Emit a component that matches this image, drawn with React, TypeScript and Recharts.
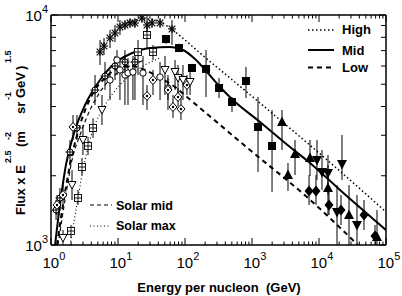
import React from 'react';
import { ComposedChart, Line, Scatter, XAxis, YAxis, ErrorBar } from 'recharts';

type P = { e: number; f: number; lo?: number; hi?: number };

const FONT = "'Liberation Sans', Arial, Helvetica, sans-serif";

// tick values
const xMajor = [1, 10, 100, 1000, 10000, 100000];
const yMajor = [1000, 10000];
const minorMult = [2, 3, 4, 5, 6, 7, 8, 9];
const xTicks = [...xMajor, ...xMajor.slice(0, -1).flatMap((m) => minorMult.map((k) => k * m))].sort((a, b) => a - b);
const yTicks = [1000, ...minorMult.map((k) => k * 1000), 10000];

// model curves
const highCurve: P[] = [
  { e: 14.1, f: 9326 }, { e: 25.3, f: 9608 }, { e: 42.4, f: 9326 }, { e: 59.7, f: 8782 },
  { e: 100, f: 7785 }, { e: 167, f: 6834 }, { e: 470, f: 5320 }, { e: 1316, f: 4143 },
  { e: 2620, f: 3496 }, { e: 7870, f: 2668 }, { e: 29040, f: 1917 }, { e: 100000, f: 1392 },
];
const midCurve: P[] = [
  { e: 1.15, f: 1000 }, { e: 1.36, f: 1493 }, { e: 1.67, f: 2228 }, { e: 2.28, f: 3162 },
  { e: 3.22, f: 4062 }, { e: 5.39, f: 5215 }, { e: 9.02, f: 6184 }, { e: 15.1, f: 6766 },
  { e: 30, f: 7185 }, { e: 59.7, f: 7257 }, { e: 93.3, f: 7043 }, { e: 141, f: 6436 },
  { e: 213, f: 5650 }, { e: 333, f: 4863 }, { e: 520, f: 4270 }, { e: 1316, f: 3427 },
  { e: 3690, f: 2668 }, { e: 7340, f: 2273 }, { e: 20560, f: 1735 }, { e: 100000, f: 1162 },
];
const lowCurve: P[] = [
  { e: 1.23, f: 1000 }, { e: 1.51, f: 1493 }, { e: 1.92, f: 2228 }, { e: 2.71, f: 3325 },
  { e: 4.09, f: 4490 }, { e: 6.4, f: 5320 }, { e: 10, f: 5884 }, { e: 15.1, f: 6002 },
  { e: 25.3, f: 5768 }, { e: 42.4, f: 5320 }, { e: 71, f: 4863 }, { e: 107, f: 4400 },
  { e: 933, f: 2588 }, { e: 6850, f: 1601 }, { e: 38200, f: 1000 },
];
const solarMidCurve: P[] = [
  { e: 1.27, f: 1000 }, { e: 1.62, f: 1569 }, { e: 2.06, f: 2342 }, { e: 2.71, f: 3008 },
  { e: 3.82, f: 3863 }, { e: 5.39, f: 4625 }, { e: 9.02, f: 5483 }, { e: 15.1, f: 6002 },
  { e: 25.3, f: 6372 },
];
const solarMaxCurve: P[] = [
  { e: 1.92, f: 1000 }, { e: 2.36, f: 1420 }, { e: 3.0, f: 2118 }, { e: 4.24, f: 3162 },
  { e: 6.4, f: 4062 }, { e: 10.7, f: 4962 }, { e: 21.3, f: 5884 }, { e: 42.4, f: 6501 },
];

// measurements
const starPts: P[] = [
  { e: 5.39, f: 6903, lo: 6062, hi: 7785 }, { e: 6.18, f: 7330, lo: 6700, hi: 7943 },
  { e: 7.6, f: 7943, lo: 7185, hi: 8608 }, { e: 9.02, f: 8352, lo: 7630, hi: 9050 },
  { e: 10.7, f: 8870, lo: 8185, hi: 9514 }, { e: 12.7, f: 9050, lo: 8608, hi: 9514 },
  { e: 15.1, f: 9233, lo: 8780, hi: 9706 }, { e: 17.9, f: 9233, lo: 8780, hi: 9706 },
  { e: 22.8, f: 9706, lo: 9233, hi: 10000 }, { e: 27.1, f: 9050, lo: 8185, hi: 10000 },
  { e: 32.2, f: 9233, lo: 8780, hi: 9706 }, { e: 42.4, f: 9233, lo: 8780, hi: 9706 },
  { e: 64.0, f: 8695, lo: 7404, hi: 9514 },
];
const sqFilled: P[] = [
  { e: 52, f: 7863, lo: 7500, hi: 8200 }, { e: 81.3, f: 7185, lo: 6900, hi: 7500 },
  { e: 127, f: 5884, lo: 5650, hi: 6100 }, { e: 206, f: 5826, lo: 4400, hi: 7043 },
  { e: 322, f: 4815, lo: 4355, hi: 5320 }, { e: 503, f: 4185, lo: 3787, hi: 4400 },
  { e: 813, f: 5164, lo: 4355, hi: 5943 }, { e: 1230, f: 3260, lo: 2077, hi: 4400 },
  { e: 1990, f: 2695, lo: 1700, hi: 3863 },
];
const triUpFilled: P[] = [
  { e: 2805, f: 3427, lo: 2588, hi: 3863 }, { e: 3445, f: 2015, lo: 1718, hi: 2273 },
  { e: 4385, f: 2487, lo: 2015, hi: 2861 }, { e: 7340, f: 2388, lo: 1995, hi: 2861 },
  { e: 13620, f: 1769, lo: 1350, hi: 2228 }, { e: 28050, f: 1350, lo: 1000, hi: 1823 },
  { e: 73400, f: 1083, lo: 1000, hi: 1420 },
];
const triDownFilled: P[] = [
  { e: 9330, f: 2342, lo: 1917, hi: 2861 }, { e: 11090, f: 2077, lo: 1735, hi: 2588 },
  { e: 13620, f: 2056, lo: 1650, hi: 2462 }, { e: 22040, f: 2249, lo: 1917, hi: 3008 },
  { e: 18570, f: 1392, lo: 1000, hi: 1823 }, { e: 36900, f: 1222, lo: 1000, hi: 1650 },
];
const diaFilled: P[] = [
  { e: 7100, f: 1718, lo: 1493, hi: 2015 }, { e: 9020, f: 1718, lo: 1493, hi: 2015 },
  { e: 14100, f: 1493, lo: 1350, hi: 1735 }, { e: 21300, f: 1420, lo: 1222, hi: 1650 },
  { e: 46960, f: 1350, lo: 1162, hi: 1569 }, { e: 68500, f: 1094, lo: 1000, hi: 1222 },
];
const triDownOpen: P[] = [
  { e: 1.51, f: 1073, lo: 1000, hi: 1162 }, { e: 2.06, f: 1823, lo: 1569, hi: 2118 },
  { e: 3.0, f: 2861, lo: 2462, hi: 3325 }, { e: 5.77, f: 3863, lo: 3325, hi: 4490 },
  { e: 50.3, f: 5768, lo: 4490, hi: 6632 }, { e: 71.0, f: 5650, lo: 4720, hi: 6372 },
  { e: 78.7, f: 5320, lo: 4270, hi: 6062 }, { e: 93.3, f: 5215, lo: 4270, hi: 6062 },
  { e: 119, f: 5114, lo: 4490, hi: 5768 },
];
const sqOpen: P[] = [
  { e: 1.99, f: 1150, lo: 1073, hi: 1222 }, { e: 2.53, f: 1601, lo: 1493, hi: 1735 },
  { e: 2.9, f: 2183, lo: 2015, hi: 2388 }, { e: 3.57, f: 2695, lo: 2462, hi: 2949 },
  { e: 4.24, f: 3227, lo: 2920, hi: 3560 }, { e: 19.9, f: 6903, lo: 5483, hi: 7785 },
  { e: 27.1, f: 8185, lo: 7185, hi: 9050 }, { e: 33.3, f: 6903, lo: 6372, hi: 7404 },
];
const diaOpen: P[] = [
  { e: 1.23, f: 1493, lo: 1350, hi: 1650 }, { e: 1.51, f: 1650, lo: 1493, hi: 1823 },
  { e: 2.13, f: 3260, lo: 2861, hi: 3675 }, { e: 27.1, f: 4446, lo: 3863, hi: 4962 },
  { e: 33.3, f: 5215, lo: 4490, hi: 5768 }, { e: 55.7, f: 4720, lo: 4270, hi: 5320 },
  { e: 66.2, f: 3981, lo: 3565, hi: 4490 }, { e: 78.7, f: 4400, lo: 4000, hi: 4815 },
  { e: 87.1, f: 3901, lo: 3496, hi: 4355 }, { e: 107, f: 4962, lo: 4490, hi: 5483 },
];
const crossCirc: P[] = [
  { e: 1.19, f: 1420, lo: 1284, hi: 1569 }, { e: 1.36, f: 1601, lo: 1420, hi: 1769 },
  { e: 1.92, f: 2537, lo: 2228, hi: 2861 }, { e: 2.44, f: 3227, lo: 2861, hi: 3675 },
  { e: 4.54, f: 4720, lo: 4062, hi: 5483 }, { e: 6.4, f: 5430, lo: 4720, hi: 6246 },
  { e: 9.02, f: 6002, lo: 5215, hi: 6632 }, { e: 12.7, f: 6246, lo: 5483, hi: 7043 },
  { e: 17.9, f: 6246, lo: 4270, hi: 7043 },
];
const circOpen: P[] = [
  { e: 7.6, f: 5215, lo: 4270, hi: 5768 }, { e: 9.66, f: 6372, lo: 5483, hi: 7043 },
  { e: 10.7, f: 5768, lo: 4270, hi: 6500 }, { e: 12.7, f: 5483, lo: 4062, hi: 6372 },
  { e: 14.1, f: 5596, lo: 4062, hi: 6500 }, { e: 16.7, f: 5650, lo: 4270, hi: 6632 },
  { e: 23.6, f: 5596, lo: 4062, hi: 6632 }, { e: 42.4, f: 5372, lo: 4270, hi: 6246 },
  { e: 55.7, f: 4815, lo: 3863, hi: 5483 },
];

const errKey = (d: P) => [d.f - (d.lo ?? d.f), (d.hi ?? d.f) - d.f];

// marker shapes
const K = '#000';
const shapes: Record<string, (p: any) => React.ReactElement> = {
  star: ({ cx, cy }) => (
    <g stroke={K} strokeWidth={1.1}>
      <line x1={cx - 4} x2={cx + 4} y1={cy} y2={cy} />
      <line x1={cx} x2={cx} y1={cy - 4} y2={cy + 4} />
      <line x1={cx - 3.3} x2={cx + 3.3} y1={cy - 3.3} y2={cy + 3.3} />
      <line x1={cx - 3.3} x2={cx + 3.3} y1={cy + 3.3} y2={cy - 3.3} />
    </g>
  ),
  sqF: ({ cx, cy }) => <rect x={cx - 4} y={cy - 4} width={8} height={8} fill={K} />,
  triUF: ({ cx, cy }) => (
    <polygon points={`${cx},${cy - 5.5} ${cx - 5},${cy + 4} ${cx + 5},${cy + 4}`} fill={K} />
  ),
  triDF: ({ cx, cy }) => (
    <polygon points={`${cx},${cy + 5.5} ${cx - 5},${cy - 4} ${cx + 5},${cy - 4}`} fill={K} />
  ),
  diaF: ({ cx, cy }) => (
    <polygon points={`${cx},${cy - 5.5} ${cx + 4.5},${cy} ${cx},${cy + 5.5} ${cx - 4.5},${cy}`} fill={K} />
  ),
  triDO: ({ cx, cy }) => (
    <polygon points={`${cx},${cy + 4} ${cx - 4},${cy - 3.5} ${cx + 4},${cy - 3.5}`} fill="#fff" stroke={K} strokeWidth={1} />
  ),
  sqO: ({ cx, cy }) => (
    <g stroke={K} strokeWidth={0.9}>
      <rect x={cx - 3.5} y={cy - 3.5} width={7} height={7} fill="#fff" />
      <line x1={cx - 3.5} x2={cx + 3.5} y1={cy} y2={cy} />
      <line x1={cx} x2={cx} y1={cy - 3.5} y2={cy + 3.5} />
    </g>
  ),
  diaO: ({ cx, cy }) => (
    <g>
      <polygon points={`${cx},${cy - 4.5} ${cx + 4},${cy} ${cx},${cy + 4.5} ${cx - 4},${cy}`} fill="#fff" stroke={K} strokeWidth={1} />
      <circle cx={cx} cy={cy} r={1.2} fill={K} />
    </g>
  ),
  crossC: ({ cx, cy }) => (
    <g stroke={K} strokeWidth={1}>
      <circle cx={cx} cy={cy} r={3} fill="#fff" />
      <line x1={cx - 4.5} x2={cx + 4.5} y1={cy} y2={cy} />
      <line x1={cx} x2={cx} y1={cy - 4.5} y2={cy + 4.5} />
    </g>
  ),
  circO: ({ cx, cy }) => <circle cx={cx} cy={cy} r={3.2} fill="#fff" stroke={K} strokeWidth={1} />,
};

const series: { data: P[]; shape: string }[] = [
  { data: starPts, shape: 'star' },
  { data: crossCirc, shape: 'crossC' },
  { data: circOpen, shape: 'circO' },
  { data: diaOpen, shape: 'diaO' },
  { data: triDownOpen, shape: 'triDO' },
  { data: sqOpen, shape: 'sqO' },
  { data: sqFilled, shape: 'sqF' },
  { data: triUpFilled, shape: 'triUF' },
  { data: triDownFilled, shape: 'triDF' },
  { data: diaFilled, shape: 'diaF' },
];

const exp10 = (v: number) => Math.round(Math.log10(v));

function BottomTick(props: any) {
  const { x, y, payload } = props;
  const v = payload.value;
  const major = xMajor.includes(v);
  return (
    <g>
      <line x1={x} x2={x} y1={y} y2={y - (major ? 7 : 3.5)} stroke={K} strokeWidth={1} />
      {major && (
        <text x={x - 8.5} y={y + 23} fontSize={15} fontFamily={FONT} fill={K}>
          10<tspan dy={-8} fontSize={11}>{exp10(v)}</tspan>
        </text>
      )}
    </g>
  );
}
function TopTick(props: any) {
  const { x, y, payload } = props;
  const major = xMajor.includes(payload.value);
  return <line x1={x} x2={x} y1={y} y2={y + (major ? 7 : 3.5)} stroke={K} strokeWidth={1} />;
}
function LeftTick(props: any) {
  const { x, y, payload } = props;
  const v = payload.value;
  const major = yMajor.includes(v);
  return (
    <g>
      <line x1={x} x2={x + (major ? 7 : 5)} y1={y} y2={y} stroke={K} strokeWidth={1} />
      {major && (
        <text x={x - 3} y={y + 6} textAnchor="end" fontSize={15} fontFamily={FONT} fill={K}>
          10<tspan dy={-8} fontSize={11}>{exp10(v)}</tspan>
        </text>
      )}
    </g>
  );
}
function RightTick(props: any) {
  const { x, y, payload } = props;
  const major = yMajor.includes(payload.value);
  return <line x1={x} x2={x - (major ? 7 : 5)} y1={y} y2={y} stroke={K} strokeWidth={1} />;
}

const axisLine = { stroke: K, strokeWidth: 1.5 };

export default function App() {
  return (
    <div style={{ position: 'absolute', left: 0, top: 0, width: 402, height: 296, background: '#fff' }}>
      <ComposedChart width={402} height={296} margin={{ top: 0, right: 0, bottom: 0, left: 0 }}>
        <XAxis
          xAxisId="b" dataKey="e" type="number" scale="log" domain={[1, 100000]} allowDataOverflow
          ticks={xTicks} interval={0} tickSize={0} tickMargin={0} tickLine={false}
          axisLine={axisLine} tick={<BottomTick />} height={51} orientation="bottom"
        />
        <XAxis
          xAxisId="t" dataKey="e" type="number" scale="log" domain={[1, 100000]} allowDataOverflow
          ticks={xTicks} interval={0} tickSize={0} tickMargin={0} tickLine={false}
          axisLine={axisLine} tick={<TopTick />} height={15} orientation="top"
        />
        <YAxis
          yAxisId="l" dataKey="f" type="number" scale="log" domain={[1000, 10000]} allowDataOverflow
          ticks={yTicks} interval={0} tickSize={0} tickMargin={0} tickLine={false}
          axisLine={axisLine} tick={<LeftTick />} width={51} orientation="left"
        />
        <YAxis
          yAxisId="r" dataKey="f" type="number" scale="log" domain={[1000, 10000]} allowDataOverflow
          ticks={yTicks} interval={0} tickSize={0} tickMargin={0} tickLine={false}
          axisLine={axisLine} tick={<RightTick />} width={16} orientation="right"
        />
        <Line xAxisId="b" yAxisId="l" data={solarMaxCurve} dataKey="f" type="monotone" stroke={K} strokeWidth={1.1} strokeDasharray="1 2.5" dot={false} activeDot={false} isAnimationActive={false} />
        <Line xAxisId="b" yAxisId="l" data={solarMidCurve} dataKey="f" type="monotone" stroke={K} strokeWidth={1.1} strokeDasharray="4 3" dot={false} activeDot={false} isAnimationActive={false} />
        <Line xAxisId="b" yAxisId="l" data={highCurve} dataKey="f" type="monotone" stroke={K} strokeWidth={1.5} strokeDasharray="1.5 2.5" dot={false} activeDot={false} isAnimationActive={false} />
        <Line xAxisId="b" yAxisId="l" data={lowCurve} dataKey="f" type="monotone" stroke={K} strokeWidth={2} strokeDasharray="5 4" dot={false} activeDot={false} isAnimationActive={false} />
        <Line xAxisId="b" yAxisId="l" data={midCurve} dataKey="f" type="monotone" stroke={K} strokeWidth={2} dot={false} activeDot={false} isAnimationActive={false} />
        {series.map((s, i) => (
          <Scatter key={i} xAxisId="b" yAxisId="l" data={s.data} dataKey="f" shape={shapes[s.shape]} isAnimationActive={false}>
            <ErrorBar dataKey={errKey} direction="y" width={0} stroke={K} strokeWidth={1} isAnimationActive={false} />
          </Scatter>
        ))}
      </ComposedChart>
      <svg width={402} height={296} style={{ position: 'absolute', left: 0, top: 0, pointerEvents: 'none' }}>
        <g fontFamily={FONT} fontWeight="bold" fill={K}>
          <text transform="rotate(-90)">
            <tspan x={-215} y={25} fontSize={13}>Flux x E</tspan>
            <tspan x={-163} y={11} fontSize={9}>2.5</tspan>
            <tspan x={-147} y={25} fontSize={13}>(m</tspan>
            <tspan x={-140} y={11} fontSize={9}>-2</tspan>
            <tspan x={-114} y={25} fontSize={13}>sr</tspan>
            <tspan x={-100} y={11} fontSize={9}>-1</tspan>
            <tspan x={-98} y={25} fontSize={13}>GeV</tspan>
            <tspan x={-70} y={25} fontSize={13}>)</tspan>
            <tspan x={-63} y={11} fontSize={9}>1.5</tspan>
          </text>
          <text x={219} y={292} textAnchor="middle" fontSize={13}>Energy per nucleon{'\u00a0\u00a0'}(GeV)</text>
          <text x={342} y={34} fontSize={13}>High</text>
          <text x={342} y={55} fontSize={13}>Mid</text>
          <text x={342} y={72} fontSize={13}>Low</text>
          <text x={116} y={210} fontSize={12.5}>Solar mid</text>
          <text x={116} y={230} fontSize={12.5}>Solar max</text>
        </g>
        <line x1={308} x2={334} y1={30} y2={30} stroke={K} strokeWidth={1.5} strokeDasharray="1.5 2.5" />
        <line x1={308} x2={334} y1={50} y2={50} stroke={K} strokeWidth={2} />
        <line x1={308} x2={334} y1={67.5} y2={67.5} stroke={K} strokeWidth={2} strokeDasharray="5 4" />
        <line x1={90} x2={112} y1={205} y2={205} stroke={K} strokeWidth={1.1} strokeDasharray="4 3" />
        <line x1={90} x2={111} y1={226} y2={226} stroke={K} strokeWidth={1.1} strokeDasharray="1 2.5" />
      </svg>
    </div>
  );
}
